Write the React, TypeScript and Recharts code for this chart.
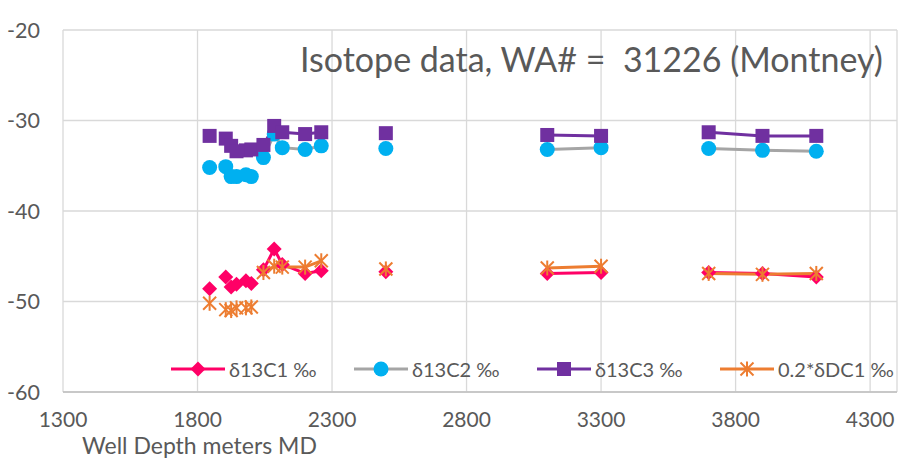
import { ComposedChart, Line, XAxis, YAxis, CartesianGrid, Legend } from "recharts"

// sample depths (m MD); the lines break after the depths listed in breakAfter
const depths = [1845, 1905, 1925, 1945, 1980, 2000, 2045, 2085, 2115, 2200, 2260, 2500, 3100, 3300, 3700, 3900, 4100]
const breakAfter = [1845, 1905, 1925, 1945, 1980, 2000, 2260, 2500, 3300]

const c1 = [-48.6, -47.3, -48.4, -48.1, -47.7, -48.0, -46.5, -44.2, -45.9, -46.9, -46.6, -46.7, -46.9, -46.8, -46.8, -46.9, -47.3]
const c2 = [-35.2, -35.1, -36.2, -36.2, -36.0, -36.2, -34.1, -31.5, -33.0, -33.2, -32.8, -33.1, -33.2, -33.0, -33.1, -33.3, -33.4]
const c3 = [-31.7, -32.0, -32.8, -33.4, -33.3, -33.2, -32.7, -30.6, -31.3, -31.5, -31.3, -31.4, -31.6, -31.7, -31.3, -31.7, -31.7]
const dc1 = [-50.2, -50.9, -51.0, -50.7, -50.7, -50.6, -46.8, -46.1, -46.2, -46.2, -45.5, -46.4, -46.3, -46.1, -46.9, -47.0, -46.9]

const seriesNames = ["δ13C1 ‰", "δ13C2 ‰", "δ13C3 ‰", "0.2*δDC1 ‰"]
const xTicks = [1300, 1800, 2300, 2800, 3300, 3800, 4300]
const yTicks = [-60, -50, -40, -30, -20]

const PINK = "#FF0066"
const BLUE = "#00B0F0"
const GREY = "#A5A5A5"
const PURPLE = "#7030A0"
const ORANGE = "#ED7D31"
const TEXT = "#595959"
const FONT = 'Lato, "DejaVu Sans", sans-serif'

type Row = { depth: number; c1: number | null; c2: number | null; c3: number | null; dc1: number | null }

const rows: Row[] = []
depths.forEach((d, i) => {
  rows.push({ depth: d, c1: c1[i], c2: c2[i], c3: c3[i], dc1: dc1[i] })
  // empty row -> gap in the line, like an empty cell in the sheet
  if (breakAfter.includes(d)) rows.push({ depth: d + 1, c1: null, c2: null, c3: null, dc1: null })
})

const ok = (p: any) => p && p.cx != null && p.cy != null && p.value != null && !Number.isNaN(p.cy)

const diamond = (cx: number, cy: number, key?: any) => (
  <polygon key={key} points={`${cx},${cy - 7.5} ${cx + 7.5},${cy} ${cx},${cy + 7.5} ${cx - 7.5},${cy}`} fill={PINK} />
)
const circle = (cx: number, cy: number, key?: any) => <circle key={key} cx={cx} cy={cy} r={7.5} fill={BLUE} />
const square = (cx: number, cy: number, key?: any) => <rect key={key} x={cx - 7} y={cy - 7} width={14} height={14} fill={PURPLE} />
const star = (cx: number, cy: number, key?: any) => (
  <g key={key} stroke={ORANGE} strokeWidth={2}>
    <line x1={cx} y1={cy - 7.5} x2={cx} y2={cy + 7.5} />
    <line x1={cx - 6.5} y1={cy - 6.5} x2={cx + 6.5} y2={cy + 6.5} />
    <line x1={cx - 6.5} y1={cy + 6.5} x2={cx + 6.5} y2={cy - 6.5} />
  </g>
)

const dot = (shape: typeof diamond) => (p: any) => (ok(p) ? shape(p.cx, p.cy, p.key) : <g key={p.key} />)

const legendStyles = [
  { line: PINK, mark: diamond },
  { line: GREY, mark: circle },
  { line: PURPLE, mark: square },
  { line: ORANGE, mark: star },
]

function LegendBox() {
  return (
    <div style={{ display: "flex", fontFamily: FONT }}>
      {seriesNames.map((name, i) => (
        <div key={name} style={{ width: 183, display: "flex", alignItems: "center" }}>
          <svg width={56} height={24}>
            <line x1={1} y1={12} x2={55} y2={12} stroke={legendStyles[i].line} strokeWidth={3} />
            {legendStyles[i].mark(28, 12)}
          </svg>
          <span style={{ fontSize: 20, color: TEXT, marginLeft: 3, whiteSpace: "nowrap" }}>{name}</span>
        </div>
      ))}
    </div>
  )
}

export default function App() {
  return (
    <div style={{ position: "fixed", left: 0, top: 0, width: 905, height: 458, background: "#fff", fontFamily: FONT }}>
      <ComposedChart width={905} height={458} data={rows} margin={{ top: 30, right: 8, left: 0, bottom: 0 }}>
        <CartesianGrid stroke="#D9D9D9" strokeWidth={1.3} />
        <XAxis
          type="number"
          dataKey="depth"
          domain={[1300, 4400]}
          ticks={xTicks}
          allowDataOverflow
          height={66}
          tickLine={false}
          tickSize={0}
          tickMargin={20}
          axisLine={{ stroke: "#BFBFBF", strokeWidth: 1.5 }}
          tick={{ fill: TEXT, fontSize: 21, fontFamily: FONT }}
          label={{ value: "Well Depth meters MD", position: "insideBottomLeft", offset: 4, dx: 15, fill: TEXT, fontSize: 23, fontFamily: FONT }}
        />
        <YAxis
          type="number"
          domain={[-60, -20]}
          ticks={yTicks}
          width={63}
          tickLine={false}
          tickSize={0}
          tickMargin={23}
          axisLine={false}
          tick={{ fill: TEXT, fontSize: 21.5, fontFamily: FONT }}
        />
        <Legend
          layout="horizontal"
          verticalAlign="middle"
          align="center"
          wrapperStyle={{ left: 170, top: 357, width: 735, height: 24 }}
          content={() => <LegendBox />}
        />
        <Line dataKey="c1" name={seriesNames[0]} type="linear" stroke={PINK} strokeWidth={3} dot={dot(diamond)} activeDot={false} isAnimationActive={false} />
        <Line dataKey="c2" name={seriesNames[1]} type="linear" stroke={GREY} strokeWidth={3} dot={dot(circle)} activeDot={false} isAnimationActive={false} />
        <Line dataKey="c3" name={seriesNames[2]} type="linear" stroke={PURPLE} strokeWidth={3} dot={dot(square)} activeDot={false} isAnimationActive={false} />
        <Line dataKey="dc1" name={seriesNames[3]} type="linear" stroke={ORANGE} strokeWidth={3} dot={dot(star)} activeDot={false} isAnimationActive={false} />
      </ComposedChart>
      <svg width={905} height={458} style={{ position: "absolute", left: 0, top: 0, pointerEvents: "none" }}>
        <text x={300} y={72} fill={TEXT} fontSize={34} fontFamily={FONT} xmlSpace="preserve" style={{ whiteSpace: "pre" }}>
          {"Isotope data, WA# =  31226 (Montney)"}
        </text>
      </svg>
    </div>
  )
}
